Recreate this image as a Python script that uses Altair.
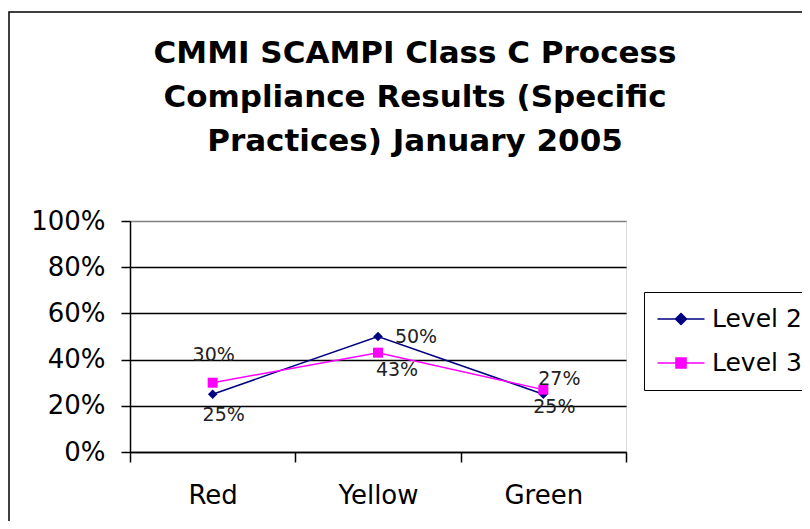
import altair as alt
import pandas as pd

categories = ["Red", "Yellow", "Green"]
series_names = ["Level 2", "Level 3"]
level2 = [0.25, 0.50, 0.25]
level3 = [0.30, 0.43, 0.27]
series_colors = ["#000080", "#FF00FF"]
title_lines = ["CMMI SCAMPI Class C Process", "Compliance Results (Specific", "Practices) January 2005"]

rows = []
for s, vals in zip(series_names, [level2, level3]):
    for c, v in zip(categories, vals):
        rows.append({"category": c, "series": s, "value": v, "label": f"{round(v*100)}%"})
df = pd.DataFrame(rows)

FONT = "DejaVu Sans"

x_enc = alt.X(
    "category:N",
    sort=categories,
    bandPosition=0.5,
    scale=alt.Scale(type="band", paddingInner=0, paddingOuter=0),
    axis=alt.Axis(
        title=None, labelAngle=0, tickBand="extent", labelFont=FONT, labelFontSize=26,
        labelColor="black", labelPadding=20, tickSize=10, tickColor="black",
        domainColor="black", tickWidth=1.5, domainWidth=1.5, grid=False,
    ),
)
y_enc = alt.Y(
    "value:Q",
    scale=alt.Scale(domain=[0, 1]),
    axis=alt.Axis(
        title=None, values=[0, 0.2, 0.4, 0.6, 0.8, 1.0], format=".0%",
        labelFont=FONT, labelFontSize=26, labelColor="black", labelPadding=16,
        tickSize=9, tickColor="black", tickWidth=1.5, domainColor="black", domainWidth=1.5,
        grid=True, gridWidth=1.5,
        gridColor={"condition": {"test": "datum.value >= 1", "value": "#808080"}, "value": "black"},
    ),
)

base = alt.Chart(df)

layers = []
# frame around the whole chart area
frame = alt.Chart(alt.Data(values=[{"a": 1}])).mark_rect(
    fillOpacity=0, stroke="black", strokeWidth=1.5
).encode(
    x=alt.value(-121), x2=alt.value(720), y=alt.value(-209), y2=alt.value(420)
)
layers.append(frame)

title_layer = alt.Chart(alt.Data(values=[{"a": 1}])).mark_text(
    text=title_lines, font=FONT, fontWeight="bold", fontSize=31, lineHeight=44,
    align="center", baseline="alphabetic", color="black"
).encode(x=alt.value(285), y=alt.value(-158))
layers.append(title_layer)

for s, col in zip(series_names, series_colors):
    layers.append(
        base.transform_filter(alt.datum.series == s)
        .mark_line(color=col, strokeWidth=1.5)
        .encode(x=x_enc, y=y_enc)
    )

layers.append(
    base.transform_filter(alt.datum.series == "Level 2")
    .mark_point(shape="diamond", filled=True, color=series_colors[0], size=90, opacity=1)
    .encode(x=x_enc, y=y_enc)
)
layers.append(
    base.transform_filter(alt.datum.series == "Level 3")
    .mark_point(shape="square", filled=True, color=series_colors[1], size=100, opacity=1)
    .encode(x=x_enc, y=y_enc)
)

label_offsets = [
    ("Level 3", "Red", 1, -28),
    ("Level 2", "Red", 11, 21),
    ("Level 2", "Yellow", 38, 0),
    ("Level 3", "Yellow", 19, 17),
    ("Level 3", "Green", 16, -11),
    ("Level 2", "Green", 11, 13),
]
for s, c, dx, dy in label_offsets:
    layers.append(
        base.transform_filter((alt.datum.series == s) & (alt.datum.category == c))
        .mark_text(font=FONT, fontSize=19, color="#222222", dx=dx, dy=dy,
                   align="center", baseline="middle")
        .encode(x=x_enc, y=y_enc, text="label:N")
    )

path_l2 = "M-1.96,0H1.96M0,-0.46L0.46,0L0,0.46L-0.46,0Z"
path_l3 = "M-1.96,0H1.96M-0.42,-0.42H0.42V0.42H-0.42Z"

legend_props = dict(
    title=None, orient="none", legendX=514, legendY=71,
    strokeColor="black", fillColor="white", padding=14,
    labelFont=FONT, labelFontSize=25, labelColor="black",
    symbolSize=576, symbolStrokeWidth=1.5, symbolOpacity=1,
    rowPadding=18, labelOffset=18, symbolOffset=10,
)
color_scale = alt.Scale(domain=series_names, range=series_colors)

legend_layer = base.transform_filter("false").mark_point(filled=True, opacity=1).encode(
    x=x_enc, y=y_enc,
    fill=alt.Fill("series:N", scale=color_scale, legend=alt.Legend(**legend_props)),
    stroke=alt.Stroke("series:N", scale=color_scale, legend=alt.Legend(**legend_props)),
    shape=alt.Shape("series:N", scale=alt.Scale(domain=series_names, range=[path_l2, path_l3]),
                    legend=alt.Legend(**legend_props)),
)
layers.append(legend_layer)

chart = alt.layer(*layers).properties(
    width=496,
    height=231,
    autosize=alt.AutoSizeParams(type="none"),
    padding={"left": 122, "top": 213, "right": 176, "bottom": 69},
).configure_view(
    fill="#C0C0C0", stroke="#808080", strokeWidth=1.5
).configure(background="white")

chart.save("out.html", embed_options={"renderer": "svg", "actions": False})
